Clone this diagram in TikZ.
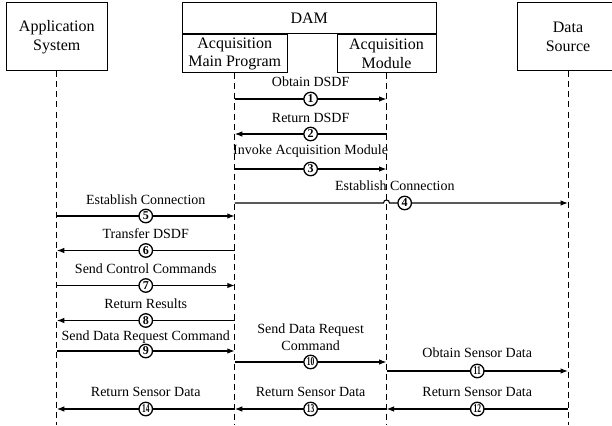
\documentclass[tikz,border=0pt]{standalone}
\usepackage{fontspec}
\setmainfont{Liberation Serif}
\usetikzlibrary{positioning, arrows.meta, calc}

\newcommand{\twodig}[1]{\scalebox{0.62}[1]{#1}}

\begin{document}
\begin{tikzpicture}[x=1pt, y=-1pt,
  box/.style={draw, line width=1pt, align=center, inner sep=0pt, font=\fontsize{16}{18.5}\selectfont},
  life/.style={line width=0.9pt, dash pattern=on 6pt off 4pt},
  msg/.style={line width=1.1pt, -{Latex[length=7.5pt,width=5.5pt]}},
  lbl/.style={anchor=base, yshift=12pt, inner sep=0pt, align=center, font=\fontsize{14}{16.5}\selectfont},
  num/.style={circle, draw, line width=1.3pt, fill=white, inner sep=0pt, minimum size=13.5pt, font=\bfseries\fontsize{12}{12}\selectfont}]
  \useasboundingbox (0,0) rectangle (612,425);
  \clip (0,0) rectangle (612,425);

  \node[box, minimum width=100.5pt, minimum height=68pt] (app) at (56.75,37) {Application\\System};
  \node[box, minimum width=253.5pt, minimum height=31pt] (dam) at (309.25,18.5) {DAM};
  \node[box, anchor=north west, minimum width=104.5pt, minimum height=38pt] (amp) at (dam.south west) {Acquisition\\Main Program};
  \node[box, anchor=north east, minimum width=99pt, minimum height=38pt] (acm) at (dam.south east) {Acquisition\\Module};
  \node[box, minimum width=102pt, minimum height=68pt] (ds) at (568,37) {Data\\Source};

  \foreach \n in {app,amp,acm,ds}
    \draw[life] (\n.south) -- (\n.south |- 0,425);

  \draw[msg] (amp.south |- 0,99) -- node[lbl]{Obtain DSDF} node[num]{1} (acm.south |- 0,99);
  \draw[msg] (acm.south |- 0,134) -- node[lbl]{Return DSDF} node[num]{2} (amp.south |- 0,134);
  \draw[msg] (amp.south |- 0,169) -- node[lbl, yshift=2.5pt]{Invoke Acquisition Module} node[num]{3} (acm.south |- 0,169);
  \draw[msg] (amp.south |- 0,203) -- ($(acm.south |- 0,203)+(-3,0)$) arc[start angle=180, end angle=0, radius=3pt]
    -- node[lbl, pos=0.03, yshift=1pt]{Establish Connection} node[num, pos=0.085]{4} (ds.south |- 0,203);
  \draw[msg] (app.south |- 0,216) -- node[lbl]{Establish Connection} node[num]{5} (amp.south |- 0,216);
  \draw[msg] (amp.south |- 0,250.5) -- node[lbl]{Transfer DSDF} node[num]{6} (app.south |- 0,250.5);
  \draw[msg] (app.south |- 0,285.5) -- node[lbl]{Send Control Commands} node[num]{7} (amp.south |- 0,285.5);
  \draw[msg] (amp.south |- 0,320.5) -- node[lbl]{Return Results} node[num]{8} (app.south |- 0,320.5);
  \draw[msg] (app.south |- 0,351) -- node[lbl, yshift=-1pt]{Send Data Request Command} node[num]{9} (amp.south |- 0,351);
  \draw[msg] (amp.south |- 0,362) -- node[lbl]{Send Data Request\\Command} node[num]{\twodig{10}} (acm.south |- 0,362);
  \draw[msg] (acm.south |- 0,371) -- node[lbl, yshift=2pt]{Obtain Sensor Data} node[num]{\twodig{11}} (ds.south |- 0,371);
  \draw[msg] (ds.south |- 0,409) -- node[lbl, yshift=1pt]{Return Sensor Data} node[num]{\twodig{12}} (acm.south |- 0,409);
  \draw[msg] (acm.south |- 0,409) -- node[lbl, yshift=1pt]{Return Sensor Data} node[num]{\twodig{13}} (amp.south |- 0,409);
  \draw[msg] (amp.south |- 0,409) -- node[lbl, yshift=1pt]{Return Sensor Data} node[num]{\twodig{14}} (app.south |- 0,409);
\end{tikzpicture}
\end{document}
